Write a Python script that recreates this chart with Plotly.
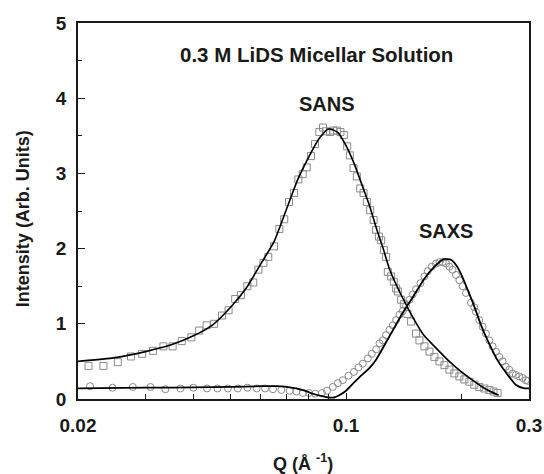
import plotly.graph_objects as go

# SANS data (open squares)
sans_q = [0.0213, 0.0233, 0.0254, 0.0275, 0.0294, 0.0314, 0.0334, 0.0353, 0.0373, 0.0395,
          0.0414, 0.0433, 0.0453, 0.0475, 0.0494, 0.0514, 0.0532, 0.0553, 0.0573, 0.0591,
          0.0609, 0.0627, 0.0649, 0.0670, 0.0690, 0.0710, 0.0732, 0.0751, 0.0771, 0.0790,
          0.0810, 0.0830, 0.0852, 0.0871, 0.0886, 0.0908, 0.0927, 0.0947, 0.0967, 0.0987,
          0.1007, 0.1023, 0.1046, 0.1067, 0.1089, 0.1111, 0.1133, 0.1156, 0.1180, 0.1198,
          0.1218, 0.1235, 0.1255, 0.1272, 0.1285, 0.1311, 0.1332, 0.1351, 0.1365, 0.1392,
          0.1415, 0.1446, 0.1478, 0.1522, 0.1554, 0.1601, 0.1650, 0.1700, 0.1752, 0.1805,
          0.1860, 0.1916, 0.1975, 0.2035, 0.2097, 0.2160, 0.2226, 0.2294, 0.2364, 0.2425,
          0.2484]
sans_i = [0.44, 0.44, 0.49, 0.565, 0.60, 0.64, 0.70, 0.70, 0.77, 0.82,
          0.91, 0.98, 1.00, 1.11, 1.18, 1.33, 1.38, 1.50, 1.55, 1.72,
          1.81, 1.89, 2.03, 2.26, 2.39, 2.62, 2.74, 2.92, 2.99, 3.08,
          3.23, 3.39, 3.55, 3.61, 3.56, 3.55, 3.57, 3.57, 3.55, 3.51,
          3.36, 3.24, 3.07, 2.96, 2.80, 2.74, 2.62, 2.51, 2.38, 2.25,
          2.16, 2.11, 1.98, 1.89, 1.69, 1.63, 1.56, 1.47, 1.43, 1.32,
          1.26, 1.13, 1.03, 0.87, 0.78, 0.70, 0.63, 0.56, 0.50, 0.45,
          0.39, 0.34, 0.30, 0.26, 0.23, 0.19, 0.16, 0.14, 0.12, 0.10,
          0.08]

# SAXS data (open circles)
saxs_q = [0.0215, 0.0246, 0.0278, 0.0309, 0.0338, 0.0370, 0.0400, 0.0434, 0.0462, 0.0492,
          0.0522, 0.0553, 0.0585, 0.0615, 0.0645, 0.0678, 0.0713, 0.0742, 0.0772, 0.0801,
          0.0831, 0.0865, 0.0892, 0.0924, 0.0952, 0.0981, 0.1015, 0.1048, 0.1078, 0.1106,
          0.1140, 0.1167, 0.1198, 0.1223, 0.1247, 0.1272, 0.1298, 0.1324, 0.1351, 0.1378,
          0.1406, 0.1434, 0.1464, 0.1493, 0.1522, 0.1563, 0.1601, 0.1633, 0.1673, 0.1716,
          0.1752, 0.1787, 0.1823, 0.1860, 0.1895, 0.1935, 0.1975, 0.2014, 0.2055, 0.2117,
          0.2160, 0.2181, 0.2226, 0.2271, 0.2316, 0.2364, 0.2411, 0.2459, 0.2510, 0.2560,
          0.2611, 0.2664, 0.2718, 0.2772, 0.2829, 0.2885, 0.2943, 0.2980]
saxs_i = [0.17, 0.15, 0.16, 0.16, 0.13, 0.14, 0.15, 0.14, 0.14, 0.14,
          0.14, 0.15, 0.14, 0.14, 0.13, 0.12, 0.11, 0.10, 0.08, 0.08,
          0.07, 0.08, 0.11, 0.16, 0.21, 0.25, 0.31, 0.36, 0.42, 0.47,
          0.54, 0.60, 0.66, 0.74, 0.78, 0.85, 0.92, 0.98, 1.05, 1.12,
          1.17, 1.24, 1.32, 1.39, 1.46, 1.54, 1.63, 1.70, 1.76, 1.80,
          1.82, 1.82, 1.80, 1.76, 1.72, 1.65, 1.58, 1.50, 1.41, 1.28,
          1.22, 1.16, 1.05, 0.96, 0.87, 0.78, 0.70, 0.63, 0.56, 0.50,
          0.43, 0.39, 0.34, 0.32, 0.30, 0.28, 0.25, 0.24]

# Fitted curves (solid lines)
sans_fit_q = [0.020, 0.025, 0.030, 0.035, 0.040, 0.045, 0.050, 0.055, 0.060, 0.065,
              0.070, 0.075, 0.080, 0.085, 0.090, 0.095, 0.100, 0.105, 0.110, 0.115,
              0.120, 0.125, 0.130, 0.140, 0.150, 0.160, 0.170, 0.185, 0.200, 0.215,
              0.230, 0.250]
sans_fit_i = [0.50, 0.55, 0.63, 0.72, 0.84, 0.99, 1.22, 1.48, 1.80, 2.10,
              2.53, 2.93, 3.22, 3.46, 3.59, 3.55, 3.37, 3.13, 2.85, 2.58,
              2.27, 2.00, 1.72, 1.36, 1.07, 0.84, 0.70, 0.51, 0.36, 0.24,
              0.14, 0.05]

saxs_fit_q = [0.020, 0.030, 0.040, 0.050, 0.060, 0.066, 0.070, 0.074, 0.078, 0.082,
              0.086, 0.090, 0.093, 0.096, 0.100, 0.105, 0.110, 0.115, 0.120, 0.130,
              0.140, 0.150, 0.160, 0.170, 0.180, 0.188, 0.195, 0.200, 0.208, 0.216,
              0.225, 0.234, 0.248, 0.264, 0.277, 0.290, 0.300]
saxs_fit_i = [0.14, 0.15, 0.155, 0.16, 0.17, 0.17, 0.16, 0.14, 0.11, 0.07,
              0.04, 0.02, 0.02, 0.05, 0.11, 0.22, 0.32, 0.41, 0.53, 0.84,
              1.13, 1.37, 1.60, 1.76, 1.86, 1.85, 1.76, 1.65, 1.44, 1.23,
              0.98, 0.78, 0.52, 0.32, 0.19, 0.145, 0.14]

x_major = [0.02, 0.1, 0.3]
x_major_text = ["0.02", "0.1", "0.3"]
x_minor = [0.03, 0.04, 0.05, 0.06, 0.07, 0.08, 0.09, 0.2]

FONT = "Liberation Sans, Arial, sans-serif"
GRAY = "#8a8a8a"
INK = "#1a1a1a"

fig = go.Figure()
fig.add_trace(go.Scatter(x=sans_q, y=sans_i, mode="markers",
                         marker=dict(symbol="square-open", size=7, color=GRAY,
                                     line=dict(width=1, color=GRAY))))
fig.add_trace(go.Scatter(x=saxs_q, y=saxs_i, mode="markers",
                         marker=dict(symbol="circle-open", size=7, color=GRAY,
                                     line=dict(width=1, color=GRAY))))
fig.add_trace(go.Scatter(x=sans_fit_q, y=sans_fit_i, mode="lines",
                         line=dict(color="black", width=1.6, shape="spline", smoothing=0.6)))
fig.add_trace(go.Scatter(x=saxs_fit_q, y=saxs_fit_i, mode="lines",
                         line=dict(color="black", width=1.8, shape="spline", smoothing=0.6)))

fig.update_layout(
    width=544, height=474,
    margin=dict(l=77.5, r=14.5, t=23, b=75),
    paper_bgcolor="white", plot_bgcolor="white",
    showlegend=False,
    font=dict(family=FONT, color=INK),
    xaxis=dict(type="log", range=[-1.69897, -0.522879], automargin=False,
               tickmode="array", tickvals=x_major, ticktext=x_major_text,
               ticks="inside", ticklen=6, tickwidth=1.2, tickcolor=INK,
               minor=dict(tickmode="array", tickvals=x_minor, ticks="inside",
                          ticklen=5, tickwidth=1.2, tickcolor=INK),
               showline=True, linecolor=INK, linewidth=1.5, mirror=True,
               showgrid=False, zeroline=False,
               tickfont=dict(family=FONT, size=19, weight="bold", color=INK),
               ticklabelstandoff=8),
    yaxis=dict(range=[0, 5], tickmode="linear", tick0=0, dtick=1, automargin=False,
               ticks="inside", ticklen=7, tickwidth=1.2, tickcolor=INK,
               minor=dict(dtick=0.5, ticks="inside", ticklen=4, tickwidth=1.2,
                          tickcolor=INK),
               showline=True, linecolor=INK, linewidth=1.5, mirror=True,
               showgrid=False, zeroline=False,
               tickfont=dict(family=FONT, size=19, weight="bold", color=INK),
               ticklabelstandoff=6),
)

anns = [
    dict(text="0.3 M LiDS Micellar Solution", x=0.528, y=0.915, size=20.5),
    dict(text="SANS", x=0.551, y=0.785, size=20),
    dict(text="SAXS", x=0.815, y=0.448, size=20),
    dict(text="Q (Å <sup>-1</sup>)", x=0.498, y=-0.168, size=18),
]
for a in anns:
    fig.add_annotation(text=a["text"], x=a["x"], y=a["y"], xref="paper", yref="paper",
                       showarrow=False, xanchor="center", yanchor="middle",
                       font=dict(family=FONT, size=a["size"], weight="bold", color=INK))
fig.add_annotation(text="Intensity (Arb. Units)", x=-0.1228, y=0.48, xref="paper", yref="paper",
                   showarrow=False, textangle=-90, xanchor="center", yanchor="middle",
                   font=dict(family=FONT, size=18, weight="bold", color=INK))

fig.write_html("out.html")
